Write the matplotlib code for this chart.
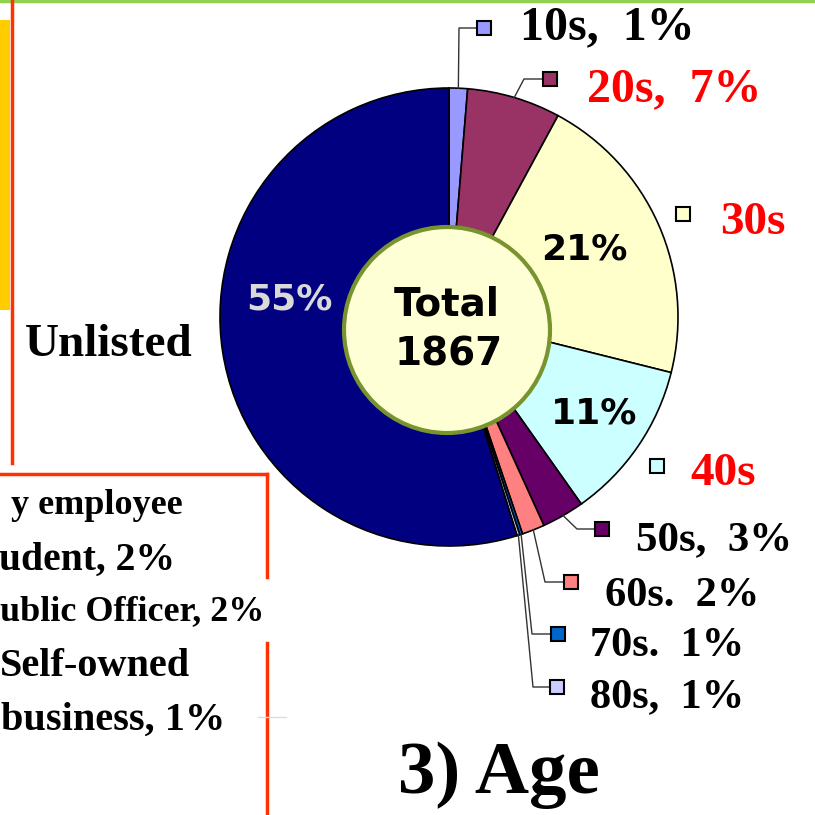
import matplotlib.pyplot as plt
from matplotlib.patches import Rectangle, Circle
import numpy as np

# age groups (share of respondents, %)
groups = ['10s', '20s', '30s', '40s', '50s', '60s', '70s', '80s', 'Unlisted']
shares = [1.3, 6.6, 21.0, 11.3, 3.0, 1.6, 0.2, 0.2, 54.8]
colors = ['#9999FF', '#993366', '#FFFFCC', '#CCFFFF', '#660066',
          '#FF8080', '#0066CC', '#CCCCFF', '#000080']
label_text = ['10s,  1%', '20s,  7%', '30s', '40s', '50s,  3%',
              '60s.  2%', '70s.  1%', '80s,  1%']
label_color = ['black', 'red', 'red', 'red', 'black', 'black', 'black', 'black']
inner_pct = {'30s': '21%', '40s': '11%', 'Unlisted': '55%'}
total = 1867

W = 815
SERIF = 'Liberation Serif'
SANS = 'DejaVu Sans'

fig = plt.figure(figsize=(8.15, 8.15), dpi=100)
ax = fig.add_axes([0, 0, 1, 1])


def Y(y):
    # image rows -> axes y
    return W - y


# pie
cx, cy, r = 449, Y(317), 229
wedges, _ = ax.pie(shares, colors=colors, startangle=90, counterclock=False,
                   center=(cx, cy), radius=r, frame=True,
                   wedgeprops=dict(edgecolor='black', linewidth=1.2))
ax.set_xlim(0, W)
ax.set_ylim(0, W)
ax.set_aspect('equal')
ax.axis('off')

# slide decorations
ax.plot([0, W], [Y(0.5), Y(0.5)], color='#92D050', lw=2.5)
ax.add_patch(Rectangle((0, Y(310)), 10, 290, color='#FFCC00', lw=0))
ax.plot([12, 12], [Y(0), Y(463)], color='#FF3300', lw=2.5)
ax.plot([0, 267], [Y(474), Y(474)], color='#FF3300', lw=2.5)
ax.plot([267, 267], [Y(474), Y(577)], color='#FF3300', lw=2.5)
ax.plot([267, 267], [Y(643), Y(815)], color='#FF3300', lw=2.5)
ax.plot([258, 286], [Y(717), Y(717)], color='#DDDDDD', lw=1)

# left-hand panel (cut off by the slide crop)
ax.text(25, Y(345), 'Unlisted', fontsize=34, fontweight='bold',
        family=SERIF, ha='left', va='center')
ax.text(183, Y(505), 'y employee', fontsize=26, fontweight='bold',
        family=SERIF, ha='right', va='center')
ax.text(175, Y(560), 'udent, 2%', fontsize=28.5, fontweight='bold',
        family=SERIF, ha='right', va='center')
ax.text(264, Y(612), 'ublic Officer, 2%', fontsize=26, fontweight='bold',
        family=SERIF, ha='right', va='center')
ax.text(190, Y(667), 'Self-owned', fontsize=29, fontweight='bold',
        family=SERIF, ha='right', va='center')
ax.text(225, Y(720), 'business, 1%', fontsize=29, fontweight='bold',
        family=SERIF, ha='right', va='center')

# percentage labels inside the slices
pct_pos = {'30s': (584, 250), '40s': (594, 414), 'Unlisted': (289, 299)}
for g, txt in inner_pct.items():
    x, y = pct_pos[g]
    ax.text(x, Y(y), txt, fontsize=26, fontweight='bold', family=SANS,
            color='#D9D9D9' if g == 'Unlisted' else 'black',
            ha='center', va='center')

# centre circle
ax.add_patch(Circle((447, Y(330)), 103, facecolor='#FFFFD5',
                    edgecolor='#77942E', lw=3, zorder=5))
ax.text(447, Y(305), 'Total', fontsize=28, fontweight='bold',
        family=SANS, ha='center', va='center', zorder=6)
ax.text(449, Y(355), str(total), fontsize=28, fontweight='bold',
        family=SANS, ha='center', va='center', zorder=6)

# legend squares, leader lines and labels on the right
sq = {  # square centre, label left x, label centre y, label size
    '10s': ((484, 28), 520, 27, 34.5),
    '20s': ((550, 79), 587, 89, 34.5),
    '30s': ((683, 214), 720, 223, 34),
    '40s': ((657, 466), 690, 474, 34),
    '50s': ((602, 529), 636, 540, 31),
    '60s': ((571, 582), 605, 596, 30.5),
    '70s': ((558, 634), 590, 646, 30.5),
    '80s': ((557, 687), 590, 697, 30.5),
}
elbow = {'10s': (459, 28), '20s': (524, 79), '50s': (577, 529),
         '60s': (545, 582), '70s': (532, 634), '80s': (533, 687)}

for i, g in enumerate(groups[:-1]):
    (sx, sy), lx, ly, fs = sq[g]
    ax.add_patch(Rectangle((sx - 7, Y(sy) - 7), 14, 14, facecolor=colors[i],
                           edgecolor='black', lw=1.5, zorder=4))
    ax.text(lx, Y(ly), label_text[i], fontsize=fs, fontweight='bold',
            family=SERIF, color=label_color[i], ha='left', va='center')
    if g in elbow:
        w = wedges[i]
        mid = np.deg2rad((w.theta1 + w.theta2) / 2)
        ax0, ay0 = cx + r * np.cos(mid), cy + r * np.sin(mid)
        ex, ey = elbow[g]
        ax.plot([ax0, ex, sx - 7], [ay0, Y(ey), Y(ey)], color='#333333',
                lw=1, zorder=3)

ax.text(499, Y(775), '3) Age', fontsize=54, fontweight='bold', family=SERIF,
        ha='center', va='center')

fig.savefig('out.png', dpi=100)
